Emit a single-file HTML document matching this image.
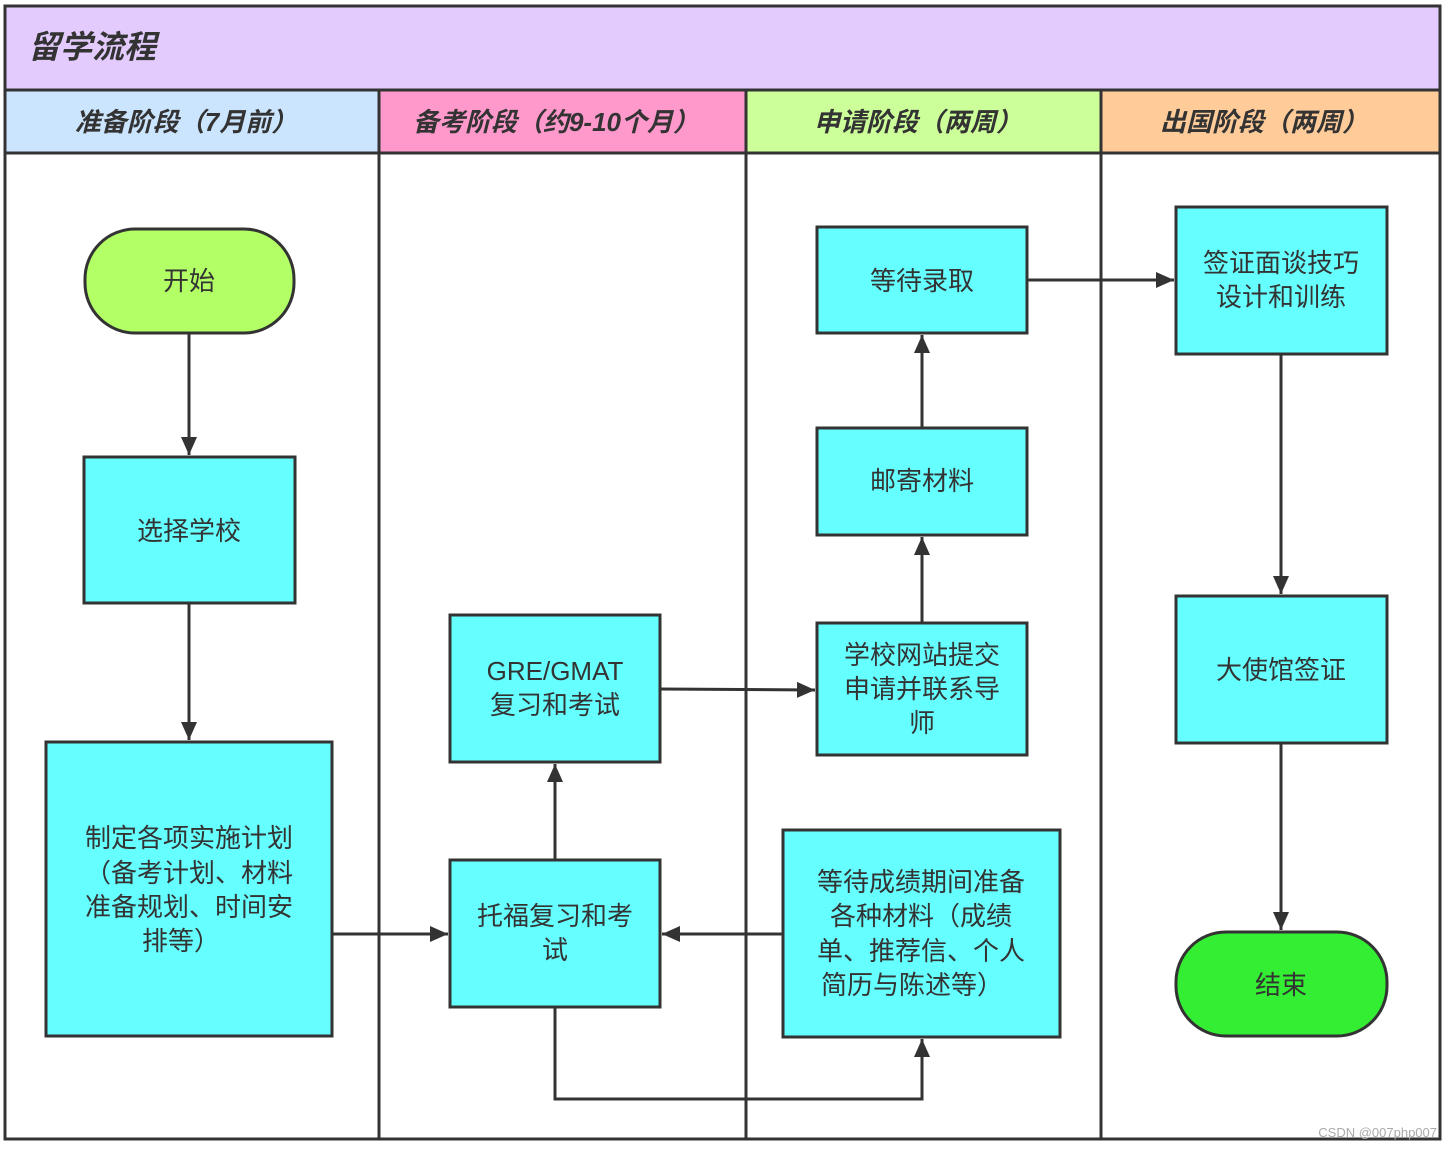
<!DOCTYPE html>
<html><head><meta charset="utf-8"><style>
body{margin:0;background:#fff;}
svg text{font-family:"Liberation Sans","Noto Sans CJK SC",sans-serif;fill:#333;}
.h{font-weight:bold;font-style:italic;font-size:26px;}
.t{font-size:26px;text-anchor:middle;}
</style></head><body>
<svg width="1452" height="1149" viewBox="0 0 1452 1149" xmlns="http://www.w3.org/2000/svg">
<defs><marker id="a" markerWidth="20" markerHeight="20" refX="18" refY="10" orient="auto" markerUnits="userSpaceOnUse"><path d="M0,2 L18,10 L0,18 z" fill="#333"/></marker></defs>
<rect x="5" y="6" width="1435" height="84" fill="#e3ccfd"/>
<rect x="5" y="90" width="374" height="63" fill="#cce5ff"/>
<rect x="379" y="90" width="367" height="63" fill="#ff99cc"/>
<rect x="746" y="90" width="355" height="63" fill="#ccff99"/>
<rect x="1101" y="90" width="339" height="63" fill="#ffcc99"/>
<g stroke="#333" stroke-width="3" fill="none">
<rect x="5" y="6" width="1435" height="1133"/>
<line x1="5" y1="90" x2="1440" y2="90"/>
<line x1="5" y1="153" x2="1440" y2="153"/>
<line x1="379" y1="90" x2="379" y2="1139"/>
<line x1="746" y1="90" x2="746" y2="1139"/>
<line x1="1101" y1="90" x2="1101" y2="1139"/>
</g>
<text class="h" x="28" y="58" font-size="32" style="font-size:32px">留学流程</text>
<text class="h" x="186" y="131" text-anchor="middle">准备阶段（7月前）</text>
<text class="h" x="556" y="131" text-anchor="middle">备考阶段（约9-10个月）</text>
<text class="h" x="918" y="131" text-anchor="middle">申请阶段（两周）</text>
<text class="h" x="1264" y="131" text-anchor="middle">出国阶段（两周）</text>
<g stroke="#333" stroke-width="3">
<rect x="85" y="229" width="209" height="104" rx="50" fill="#b3ff66"/>
<rect x="84" y="457" width="211" height="146" fill="#66ffff"/>
<rect x="46" y="742" width="286" height="294" fill="#66ffff"/>
<rect x="450" y="615" width="210" height="147" fill="#66ffff"/>
<rect x="450" y="860" width="210" height="147" fill="#66ffff"/>
<rect x="817" y="227" width="210" height="106" fill="#66ffff"/>
<rect x="817" y="428" width="210" height="107" fill="#66ffff"/>
<rect x="817" y="623" width="210" height="132" fill="#66ffff"/>
<rect x="783" y="830" width="277" height="207" fill="#66ffff"/>
<rect x="1176" y="207" width="211" height="147" fill="#66ffff"/>
<rect x="1176" y="596" width="211" height="147" fill="#66ffff"/>
<rect x="1176" y="932" width="211" height="104" rx="50" fill="#33ee33"/>
</g>
<g stroke="#333" stroke-width="3" fill="none" marker-end="url(#a)">
<line x1="189" y1="333" x2="189" y2="455"/>
<line x1="189" y1="603" x2="189" y2="740"/>
<line x1="332" y1="934" x2="448" y2="934"/>
<line x1="555" y1="860" x2="555" y2="764"/>
<line x1="660" y1="689" x2="815" y2="690"/>
<line x1="922" y1="623" x2="922" y2="537"/>
<line x1="922" y1="428" x2="922" y2="335"/>
<line x1="1027" y1="280" x2="1174" y2="280"/>
<line x1="1281" y1="354" x2="1281" y2="594"/>
<line x1="1281" y1="743" x2="1281" y2="930"/>
<line x1="783" y1="934" x2="662" y2="934"/>
<polyline points="555,1007 555,1099 922,1099 922,1039"/>
</g>
<text class="t" x="189" y="290">开始</text>
<text class="t" x="189" y="540">选择学校</text>
<text class="t" x="189" y="847">制定各项实施计划</text>
<text class="t" x="189" y="882">（备考计划、材料</text>
<text class="t" x="189" y="916">准备规划、时间安</text>
<text class="t" x="181" y="950">排等）</text>
<text class="t" x="555" y="680">GRE/GMAT</text>
<text class="t" x="555" y="714">复习和考试</text>
<text class="t" x="555" y="925">托福复习和考</text>
<text class="t" x="555" y="959">试</text>
<text class="t" x="922" y="290">等待录取</text>
<text class="t" x="922" y="490">邮寄材料</text>
<text class="t" x="922" y="664">学校网站提交</text>
<text class="t" x="922" y="698">申请并联系导</text>
<text class="t" x="922" y="732">师</text>
<text class="t" x="921" y="891">等待成绩期间准备</text>
<text class="t" x="921" y="925">各种材料（成绩</text>
<text class="t" x="921" y="960">单、推荐信、个人</text>
<text class="t" x="912" y="994">简历与陈述等）</text>
<text class="t" x="1281" y="272">签证面谈技巧</text>
<text class="t" x="1281" y="306">设计和训练</text>
<text class="t" x="1281" y="679">大使馆签证</text>
<text class="t" x="1281" y="994">结束</text>
<text x="1437" y="1137" text-anchor="end" style="font-size:13px;fill:#aaa">CSDN @007php007</text>
</svg>
</body></html>
